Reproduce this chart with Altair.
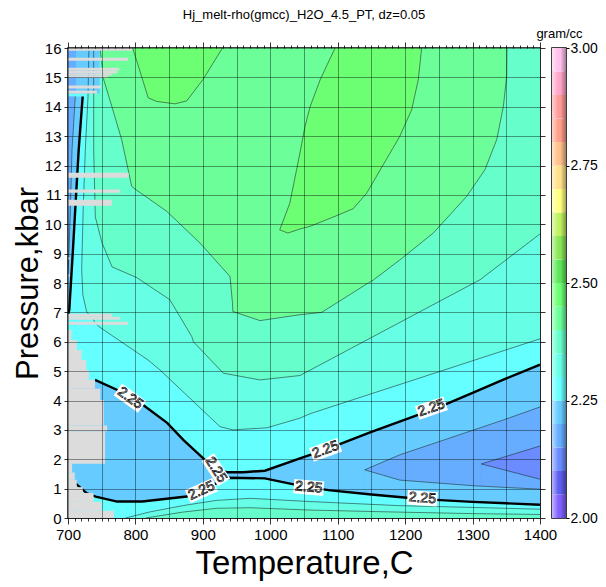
import altair as alt
import pandas as pd

# ---------------- texts ----------------
TITLE = "Hj_melt-rho(gmcc)_H2O_4.5_PT, dz=0.05"
X_TITLE = "Temperature,C"
Y_TITLE = "Pressure,kbar"
CB_TITLE = "gram/cc"

# ---------------- axes ----------------
T_RANGE = [700, 1400]
P_RANGE = [0, 16]
X_TICKS = list(range(700, 1401, 10))
Y_TICKS = list(range(0, 17))
CB_RANGE = [2.0, 3.0]
CB_TICKS = [2.0, 2.25, 2.5, 2.75, 3.0]

# ---------------- colour bands (dz = 0.05) ----------------
LEVELS = ["2.00", "2.05", "2.10", "2.15", "2.20", "2.25", "2.30", "2.35", "2.40", "2.45",
          "2.50", "2.55", "2.60", "2.65", "2.70", "2.75", "2.80", "2.85", "2.90", "2.95"]
PALETTE = ["#8060ff", "#5e5ef0", "#6b8cff", "#66adff", "#66ccff", "#66ffff", "#66ffe6", "#66ffcc",
           "#6cff99", "#6cff73", "#5ee65a", "#8ae655", "#bff060", "#ffff80", "#ffe08a", "#ffc08a",
           "#ff9f8a", "#ff9a9a", "#ffa6c8", "#ffc0ec"]
COL = dict(zip(LEVELS, PALETTE))

# ---------------- contour lines (T in C, P in kbar) ----------------
# 2.25 contour, upper branch
U_T = [740, 774, 807, 847, 871, 903, 918, 935, 960, 992, 1044, 1081, 1150, 1207, 1252, 1300, 1350, 1400]
U_P = [4.70, 4.35, 3.92, 3.24, 2.66, 1.98, 1.70, 1.56, 1.56, 1.61, 2.03, 2.32, 2.93, 3.41, 3.79, 4.26, 4.75, 5.22]
WEDGE_EDGE_T = [705]          # hidden (no-data) left end of the low-density wedge
WEDGE_EDGE_P = [4.70]
# 2.25 contour, lower branch
L_T = [708, 728, 741, 773, 810, 876, 905, 936, 992, 1040, 1086, 1150, 1207, 1252, 1300, 1350, 1400]
L_P = [1.24, 0.84, 0.73, 0.56, 0.56, 0.73, 1.00, 1.37, 1.35, 1.12, 0.95, 0.80, 0.68, 0.61, 0.55, 0.50, 0.45]
# 2.25 contour, left high-pressure branch (P -> T)
BL_P = [6.90, 7.09, 9.0, 11.0, 12.54, 13.5, 14.35]
BL_T = [700, 701.9, 707, 712, 715.9, 719, 721.8]
# 2.20 contour at the left edge (P -> T)
L20_P = [8.30, 8.79, 10.5, 12.54, 14.35]
L20_T = [700, 701, 703.5, 706, 710.8]
# 2.20 closed triangle on the right
M_UP_T = [1140, 1192, 1346, 1400]
M_UP_P = [1.64, 2.15, 3.34, 3.78]
M_LO_T = [1140, 1192, 1300, 1400]
M_LO_P = [1.64, 1.29, 1.10, 0.98]
# 2.15 closed triangle on the right
IN_UP_T = [1313, 1400]
IN_UP_P = [1.84, 2.45]
IN_LO_T = [1313, 1400]
IN_LO_P = [1.84, 1.32]
# 2.30 contour: left (P -> T) and main (T -> P)
A_LEFT_P = [7.02, 7.6, 8.45, 10.5, 12.54, 14.34, 16.0]
A_LEFT_T = [727.7, 722, 720.3, 722.5, 725.7, 729.7, 731]
A_MAIN_T = [727.7, 745.5, 818.6, 836.4, 925.4, 944.7, 995, 1044, 1059, 1400]
A_MAIN_P = [7.02, 6.52, 5.38, 5.04, 3.11, 3.00, 3.07, 3.40, 3.55, 6.10]
# 2.35 contour
B_LEFT_P = [8.55, 9.37, 10.25, 12.54, 14.34, 16.0]
B_LEFT_T = [765.3, 750.4, 740.5, 738.1, 738.1, 738]
B_MAIN_T = [765.3, 802.3, 851, 883.5, 886, 930.3, 984.7, 1044, 1311, 1400]
B_MAIN_P = [8.55, 8.18, 7.43, 6.18, 6.00, 4.93, 4.70, 4.85, 8.11, 9.67]
# 2.40 contour
C_T = [747.5, 753, 762, 779.6, 794.5, 799.4, 846.4, 895.8, 940.3, 944, 944.5, 984.7, 1044, 1076.2,
       1145.3, 1152.8, 1192.4, 1241.7, 1291.3, 1318.4, 1335.8, 1345.6, 1350.6, 1351]
C_P = [16.0, 14.92, 14.24, 12.88, 11.29, 11.2, 10.44, 9.36, 8.22, 7.30, 7.03, 6.72, 6.92, 7.00,
       8.00, 8.10, 8.79, 9.70, 10.95, 11.86, 12.88, 14.0, 15.04, 16.0]
# 2.45 islands
ISL1_T = [796, 819, 831.5, 858.7, 876, 900, 929]
ISL1_P = [16.0, 14.3, 14.18, 14.1, 14.2, 14.92, 16.0]
ISL2B_T = [1014, 1026, 1044, 1059, 1096, 1123, 1143, 1192, 1209.7, 1219.5, 1224.5]
ISL2B_P = [9.81, 9.70, 9.84, 9.93, 10.27, 10.53, 11.06, 12.99, 13.9, 14.92, 16.0]
ISL2L_T = [1014, 1029, 1044, 1051.5, 1059, 1074, 1096]
ISL2L_P = [9.81, 10.72, 12.43, 13.33, 14.0, 14.92, 16.0]
# low-pressure contours near P = 0
LB1_T = [785, 822, 870, 920, 970, 1059, 1192, 1300, 1400]
LB1_P = [0.0, 0.21, 0.42, 0.60, 0.67, 0.56, 0.42, 0.36, 0.30]
LB2_T = [815, 870, 920, 970, 1059, 1192, 1300, 1400]
LB2_P = [0.0, 0.20, 0.33, 0.35, 0.27, 0.20, 0.15, 0.12]

# blue rows at the top left (P range, T end)
TOPROW_P = [14.45, 16.0]
TOPROW_T220 = 747
TOPROW_T215 = 712

# no-data (grey) rows: P from, P to, T end
GREY_P0 = [0.00, 0.25, 0.55, 0.85, 1.05, 1.30, 1.55, 1.85, 2.95, 3.15, 4.02, 4.40, 4.70, 5.04, 5.38, 5.72, 6.06,
           6.58, 6.75, 6.85, 8.22, 8.80, 10.63, 11.07, 11.58, 14.45, 14.62, 14.99, 15.06, 15.13, 15.23, 15.57, 15.91]
GREY_P1 = [0.25, 0.55, 0.85, 1.05, 1.30, 1.55, 1.85, 2.95, 3.15, 4.02, 4.40, 4.70, 5.04, 5.38, 5.72, 6.06, 6.41,
           6.68, 6.85, 6.95, 8.29, 8.87, 10.83, 11.18, 11.75, 14.55, 14.72, 15.06, 15.13, 15.23, 15.33, 15.67, 16.0]
GREY_T1 = [768, 750, 738, 722, 713, 710, 706, 755, 758, 753, 748, 740, 731, 727, 720, 713, 705,
           789, 777, 765, 703, 703, 765, 777, 790, 743, 749, 759, 765, 773, 776, 789, 795]

# 2.25 contour labels
LAB_T = [792, 919.5, 898, 1082, 1239, 1057, 1225.5]
LAB_P = [4.08, 1.64, 0.93, 2.32, 3.74, 1.04, 0.67]
LAB_ANGLE = [36, 57, 336, 340, 341, 5, 4]
LAB_TEXT = ["2.25"] * 7

# ---------------- helpers ----------------
XS = alt.Scale(domain=T_RANGE, nice=False, zero=False)
YS = alt.Scale(domain=P_RANGE, nice=False, zero=False)
XN = lambda f: alt.X(f, type="quantitative", scale=XS, axis=None)
YN = lambda f: alt.Y(f, type="quantitative", scale=YS, axis=None)


def fill_below(ts, ps, level):
    df = pd.DataFrame({"T": ts, "P": ps, "P0": [P_RANGE[0]] * len(ts)})
    return alt.Chart(df).mark_area(orient="vertical", color=COL[level], clip=True).encode(
        x=XN("T"), y=YN("P0"), y2="P:Q")


def fill_above(ts, ps, level):
    df = pd.DataFrame({"T": ts, "P": ps, "P1": [P_RANGE[1]] * len(ts)})
    return alt.Chart(df).mark_area(orient="vertical", color=COL[level], clip=True).encode(
        x=XN("T"), y=YN("P"), y2="P1:Q")


def fill_horiz(ps, tl, tr, level):
    df = pd.DataFrame({"P": ps, "TL": tl, "TR": tr})
    return alt.Chart(df).mark_area(orient="horizontal", color=COL[level], clip=True).encode(
        y=YN("P"), x=XN("TL"), x2="TR:Q")


def lines_df(curves):
    rows = []
    for name, (ts, ps) in curves.items():
        for i, (t, p) in enumerate(zip(ts, ps)):
            rows.append({"id": name, "i": i, "T": t, "P": p})
    return pd.DataFrame(rows)


n = len
# ---------------- axes ----------------
FONT = "Liberation Sans"
cond_grid = {"condition": {"test": "datum.value % 50 === 0", "value": 0.5}, "value": 0}
cond_tick = {"condition": {"test": "datum.value % 100 === 0", "value": 6}, "value": 3}

x_bottom = alt.Axis(values=X_TICKS, format="d",
                    labelExpr="datum.value % 100 === 0 ? datum.label : ''",
                    labelFlush=False, labelOverlap=False, grid=True, gridColor="#000000",
                    gridOpacity=cond_grid, gridWidth=0.8, tickSize=cond_tick, tickColor="#000000",
                    tickWidth=0.8, labelFontSize=15, labelPadding=3, titleFontSize=33,
                    titleFontWeight="normal", titlePadding=5, domain=False, zindex=1)
y_left = alt.Axis(values=Y_TICKS, format="d", labelFlush=False, labelOverlap=False, grid=True,
                  gridColor="#000000", gridOpacity=0.5, gridWidth=0.8, tickSize=4, tickColor="#000000",
                  tickWidth=0.8, labelFontSize=15, labelPadding=3, titleFontSize=31,
                  titleFontWeight="normal", titlePadding=0, domain=False, zindex=1)
x_top = alt.Axis(orient="top", values=X_TICKS, labels=False, grid=False, tickSize=cond_tick,
                 tickColor="#000000", tickWidth=0.8, title=None, domain=False, zindex=1)
y_right = alt.Axis(orient="right", values=Y_TICKS, labels=False, grid=False, tickSize=5,
                   tickColor="#000000", tickWidth=0.8, title=None, domain=False, zindex=1)

frame = pd.DataFrame({"t0": [T_RANGE[0]], "t1": [T_RANGE[1]], "p0": [P_RANGE[0]], "p1": [P_RANGE[1]]})
base = alt.Chart(frame).mark_rect(color=COL["2.25"]).encode(
    x=alt.X("t0:Q", scale=XS, axis=x_bottom, title=X_TITLE), x2="t1:Q",
    y=alt.Y("p0:Q", scale=YS, axis=y_left, title=Y_TITLE), y2="p1:Q")
frame_axes = alt.Chart(frame).mark_rect(opacity=0).encode(
    x=alt.X("t0:Q", scale=XS, axis=x_top), x2="t1:Q",
    y=alt.Y("p0:Q", scale=YS, axis=y_right), y2="p1:Q")

# ---------------- filled bands (painted from outside in) ----------------
layers = [base]
layers.append(fill_below(WEDGE_EDGE_T + U_T, WEDGE_EDGE_P + U_P, "2.20"))
layers.append(fill_below(M_UP_T, M_UP_P, "2.15"))
layers.append(fill_below(IN_UP_T, IN_UP_P, "2.10"))
layers.append(fill_below(IN_LO_T, IN_LO_P, "2.15"))
layers.append(fill_below(M_LO_T, M_LO_P, "2.20"))
layers.append(fill_below(L_T, L_P, "2.25"))
layers.append(fill_below(LB1_T, LB1_P, "2.30"))
layers.append(fill_below(LB2_T, LB2_P, "2.35"))
layers.append(fill_above(A_MAIN_T, A_MAIN_P, "2.30"))
layers.append(fill_horiz(A_LEFT_P, A_LEFT_T, [T_RANGE[1]] * n(A_LEFT_P), "2.30"))
layers.append(fill_above(B_MAIN_T, B_MAIN_P, "2.35"))
layers.append(fill_horiz(B_LEFT_P, B_LEFT_T, [B_MAIN_T[0]] * n(B_LEFT_P), "2.35"))
layers.append(fill_above(C_T, C_P, "2.40"))
layers.append(fill_above(ISL1_T, ISL1_P, "2.45"))
layers.append(fill_above(ISL2B_T, ISL2B_P, "2.45"))
layers.append(fill_above(ISL2L_T, ISL2L_P, "2.40"))
layers.append(fill_horiz(BL_P, [T_RANGE[0]] * n(BL_P), BL_T, "2.20"))
layers.append(fill_horiz(L20_P, [T_RANGE[0]] * n(L20_P), L20_T, "2.15"))
layers.append(fill_horiz(TOPROW_P, [T_RANGE[0]] * 2, [TOPROW_T220] * 2, "2.20"))
layers.append(fill_horiz(TOPROW_P, [T_RANGE[0]] * 2, [TOPROW_T215] * 2, "2.15"))

# ---------------- contour lines ----------------
THIN = {
    "a": (A_LEFT_T[::-1] + A_MAIN_T[1:], A_LEFT_P[::-1] + A_MAIN_P[1:]),
    "b": (B_LEFT_T[::-1] + B_MAIN_T[1:], B_LEFT_P[::-1] + B_MAIN_P[1:]),
    "c": (C_T, C_P),
    "i1": (ISL1_T, ISL1_P),
    "i2": (ISL2L_T[::-1] + ISL2B_T[1:], ISL2L_P[::-1] + ISL2B_P[1:]),
    "l20": (L20_T, L20_P),
    "m": (M_LO_T[::-1] + M_UP_T[1:], M_LO_P[::-1] + M_UP_P[1:]),
    "in": (IN_LO_T[::-1] + IN_UP_T[1:], IN_LO_P[::-1] + IN_UP_P[1:]),
    "lb1": (LB1_T, LB1_P),
    "lb2": (LB2_T, LB2_P),
}
BOLD = {"U": (U_T, U_P), "L": (L_T, L_P), "BL": (BL_T, BL_P)}

layers.append(alt.Chart(lines_df(THIN)).mark_line(color="#1b2a24", strokeWidth=0.7, opacity=0.8, clip=True).encode(
    x=XN("T"), y=YN("P"), detail="id:N", order="i:Q"))
layers.append(alt.Chart(lines_df(BOLD)).mark_line(color="#000000", strokeWidth=2.4, clip=True).encode(
    x=XN("T"), y=YN("P"), detail="id:N", order="i:Q"))

# ---------------- no-data cells ----------------
grey = pd.DataFrame({"p0": GREY_P0, "p1": GREY_P1, "t1": GREY_T1, "t0": [T_RANGE[0]] * n(GREY_T1)})
layers.append(alt.Chart(grey).mark_rect(color="#dcdcdc", clip=True).encode(
    x=XN("t0"), x2="t1:Q", y=YN("p0"), y2="p1:Q"))

# ---------------- labels ----------------
lab = pd.DataFrame({"T": LAB_T, "P": LAB_P, "a": LAB_ANGLE, "txt": LAB_TEXT})
layers.append(alt.Chart(lab).mark_point(shape="M-1,-0.48L1,-0.48L1,0.48L-1,0.48Z", size=900, filled=True,
                                        color="white", opacity=1).encode(
    x=XN("T"), y=YN("P"), angle=alt.Angle("a:Q", scale=None)))
layers.append(alt.Chart(lab).mark_text(fontSize=14, fill="white", stroke="black", strokeWidth=0.7,
                                       align="center", baseline="middle").encode(
    x=XN("T"), y=YN("P"), angle=alt.Angle("a:Q", scale=None), text="txt:N"))
layers.append(frame_axes)

main = alt.layer(*layers).properties(
    width=472, height=470,
    title=alt.Title(TITLE, fontSize=13, fontWeight="normal", anchor="middle", offset=19),
).resolve_axis(x="independent", y="independent")

# ---------------- colour bar ----------------
cb = pd.DataFrame({"lo": [float(v) for v in LEVELS],
                   "hi": [float(v) for v in LEVELS[1:]] + [CB_RANGE[1]],
                   "band": LEVELS})
CBS = alt.Scale(domain=CB_RANGE, nice=False, zero=False)
cb_axis = alt.Axis(orient="right", values=CB_TICKS, format=".2f", tickSize=3, tickColor="#000000",
                   labelFontSize=14, labelPadding=1, labelFlush=False, domain=False, grid=False,
                   title=CB_TITLE, titleAngle=0, titleX=-7, titleY=-8, titleAlign="center",
                   titleBaseline="bottom", titleFontSize=13, titleFontWeight="normal")
cb_rect = alt.Chart(cb).mark_rect().encode(
    x=alt.value(0), x2=alt.value(14),
    y=alt.Y("lo:Q", scale=CBS, axis=cb_axis), y2="hi:Q",
    color=alt.Color("band:N", scale=alt.Scale(domain=LEVELS, range=PALETTE), legend=None))
cb_one = pd.DataFrame({"lo": [CB_RANGE[0]], "hi": [CB_RANGE[1]]})
shade = alt.Chart(cb_one).mark_rect(fill=alt.Gradient(
    gradient="linear", x1=0, x2=1, y1=0, y2=0,
    stops=[alt.GradientStop(color="rgba(255,255,255,0.55)", offset=0),
           alt.GradientStop(color="rgba(255,255,255,0)", offset=0.45),
           alt.GradientStop(color="rgba(0,0,0,0)", offset=0.6),
           alt.GradientStop(color="rgba(0,0,0,0.35)", offset=1)])).encode(
    x=alt.value(0), x2=alt.value(14),
    y=alt.Y("lo:Q", scale=CBS, axis=None), y2="hi:Q")
cbar = alt.layer(cb_rect, shade).properties(width=14, height=470).resolve_axis(y="independent")

chart = alt.hconcat(main, cbar, spacing=12, bounds="flush").properties(
    padding={"left": 3, "top": 0, "right": 0, "bottom": 0}
).configure(font=FONT).configure_view(stroke="#000000", strokeWidth=1.5)

chart.save("out.html", embed_options={"renderer": "svg", "actions": False})
